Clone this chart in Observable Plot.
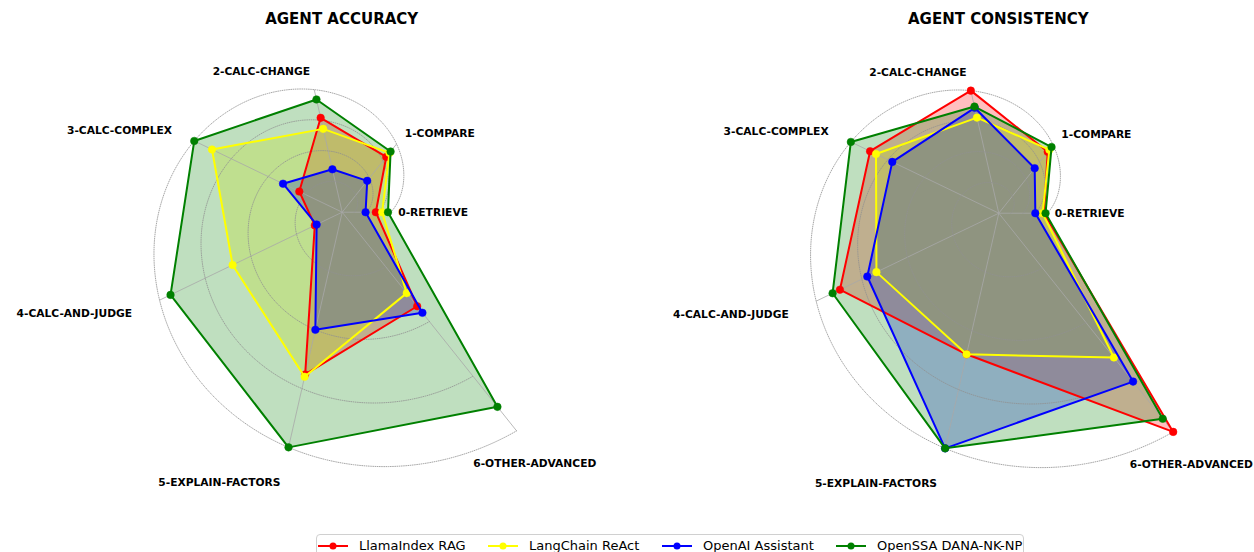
<!DOCTYPE html>
<html><head><meta charset="utf-8">
<script src="https://cdn.jsdelivr.net/npm/d3@7"></script>
<script src="https://cdn.jsdelivr.net/npm/@observablehq/plot@0.6"></script>
<style>
body{margin:0;background:#fff;font-family:"DejaVu Sans",sans-serif;}
#root{position:relative;width:1254px;height:552px;overflow:hidden;background:#fff;}
.chart{position:absolute;top:0;}
.title{position:absolute;top:10px;font-weight:bold;font-size:15px;transform:translateX(-50%);white-space:nowrap;color:#000;}
#legend{position:absolute;left:316px;top:534px;width:708px;height:26px;border:1px solid #d0d0d0;border-radius:4px;box-sizing:border-box;font-size:13px;color:#000;}
.item{position:absolute;top:0;height:21px;display:flex;align-items:center;white-space:nowrap;}
.item svg{margin-right:11px;flex:none;}
</style></head><body><div id="root"></div>
<script>
// ---- data ----
const categories = ["0-RETRIEVE","1-COMPARE","2-CALC-CHANGE","3-CALC-COMPLEX","4-CALC-AND-JUDGE","5-EXPLAIN-FACTORS","6-OTHER-ADVANCED"];
const agents = ["LlamaIndex RAG","LangChain ReAct","OpenAI Assistant","OpenSSA DANA-NK-NP"];
const chartTitles = ["AGENT ACCURACY","AGENT CONSISTENCY"];
const accLlamaIndex = [0.69, 0.81, 0.77, 0.29, 0.15, 0.69, 0.43];
const accLangChain  = [0.82, 0.87, 0.68, 0.88, 0.60, 0.70, 0.37];
const accOpenAI     = [0.48, 0.46, 0.35, 0.40, 0.14, 0.50, 0.46];
const accOpenSSA    = [0.94, 0.89, 0.92, 1.00, 0.94, 1.00, 0.89];
const conLlamaIndex = [0.93, 0.90, 1.00, 0.87, 0.87, 0.60, 1.00];
const conLangChain  = [0.90, 0.93, 0.78, 0.83, 0.67, 0.60, 0.66];
const conOpenAI     = [0.75, 0.66, 0.86, 0.72, 0.72, 1.00, 0.77];
const conOpenSSA    = [0.96, 0.97, 0.87, 1.00, 0.91, 1.00, 0.94];
const gridLevels = [0.25, 0.5, 0.75, 1.0];

// ---- styles / layout ----
const colors = ["#ff0000","#ffff00","#0000ff","#008000"];
const W = 627, H = 530;
const R0 = 48.7, K = 0.8808;         // spiral radial scale
const step = 2*Math.PI/categories.length;
const labelLevel = 1.15;
const labelAnchors = ["start","start","end","end","end","end","middle"];

const spiral = th => R0*(1 + K*th);
const pol = (v, th) => { const r = v*spiral(th); return {x: r*Math.cos(th), y: r*Math.sin(th)}; };

function radar(series, cx, cy) {
  const thMax = step*(categories.length-1);
  const grid = [];
  gridLevels.forEach(l => { for (let t = 0; t <= 240; t++) { const th = thMax*t/240; grid.push({l, ...pol(l, th)}); } });
  const axes = categories.map((c,i) => { const a = pol(0, i*step), b = pol(1, i*step); return {x1:a.x,y1:a.y,x2:b.x,y2:b.y}; });
  const labels = categories.map((c,i) => ({c, i, anchor: labelAnchors[i], ...pol(labelLevel, i*step)}));
  const pts = series.map(vals => vals.map((v,i) => pol(v, i*step)));
  const marks = [];
  pts.forEach((p,k) => marks.push(Plot.line(p, {x:"x", y:"y", curve:"linear-closed", fill: colors[k], fillOpacity: 0.25, stroke: "none"})));
  marks.push(Plot.link(axes, {x1:"x1", y1:"y1", x2:"x2", y2:"y2", stroke:"#a8a8a8", strokeWidth:0.8}));
  marks.push(Plot.line(grid, {x:"x", y:"y", z:"l", stroke:"#909090", strokeWidth:0.8, strokeDasharray:"0.8,1.4"}));
  pts.forEach((p,k) => {
    marks.push(Plot.line(p, {x:"x", y:"y", curve:"linear-closed", stroke: colors[k], strokeWidth: 2}));
    marks.push(Plot.dot(p, {x:"x", y:"y", r: 3.8, fill: colors[k], stroke: colors[k], strokeWidth: 0.5}));
  });
  ["start","end","middle"].forEach(a => marks.push(Plot.text(labels.filter(d => d.anchor === a), {
    x:"x", y:"y", text:"c", textAnchor: a, dx: a === "middle" ? -8 : 0,
    fontWeight:"bold", fontSize:10.7, fill:"#000"})));
  return Plot.plot({
    width: W, height: H, margin: 0,
    x: {domain: [-cx, W-cx], axis: null},
    y: {domain: [-(H-cy), cy], axis: null},
    style: {fontFamily: "DejaVu Sans", background: "transparent", overflow: "visible"},
    marks
  });
}

const root = document.getElementById("root");
const charts = [
  {series: [accLlamaIndex, accLangChain, accOpenAI, accOpenSSA], left: 0, cx: 341.7, cy: 211.7},
  {series: [conLlamaIndex, conLangChain, conOpenAI, conOpenSSA], left: 627, cx: 371.3, cy: 212.7}
];
charts.forEach((c, i) => {
  const d = document.createElement("div");
  d.className = "chart"; d.style.left = c.left + "px";
  d.appendChild(radar(c.series, c.cx, c.cy));
  root.appendChild(d);
  const t = document.createElement("div");
  t.className = "title"; t.textContent = chartTitles[i];
  t.style.left = (c.left + c.cx) + "px";
  root.appendChild(t);
});

// legend
const lg = document.createElement("div"); lg.id = "legend";
const itemLeft = [1, 171, 345, 519];
agents.forEach((a, k) => {
  const it = document.createElement("div"); it.className = "item"; it.style.left = itemLeft[k] + "px";
  it.innerHTML = `<svg width="30" height="10"><line x1="0" y1="5" x2="30" y2="5" stroke="${colors[k]}" stroke-width="2"/><circle cx="15" cy="5" r="3.5" fill="${colors[k]}"/></svg><span>${a}</span>`;
  lg.appendChild(it);
});
root.appendChild(lg);
</script></body></html>
